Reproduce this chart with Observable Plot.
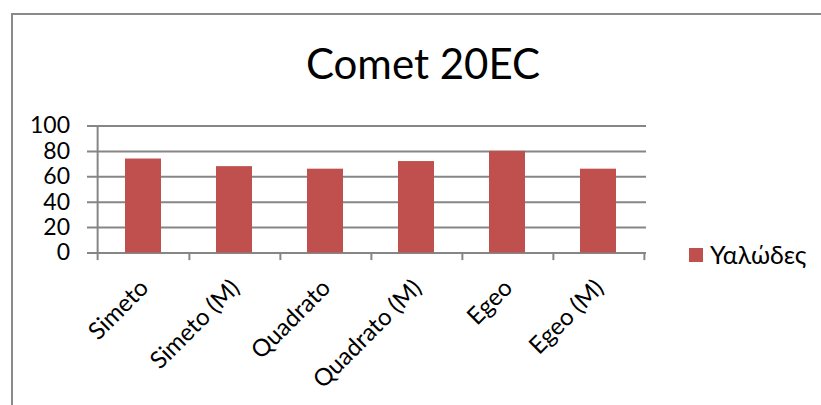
<!DOCTYPE html>
<html>
<head>
<meta charset="utf-8">
<script src="https://cdn.jsdelivr.net/npm/d3@7"></script>
<script src="https://cdn.jsdelivr.net/npm/@observablehq/plot@0.6"></script>
<style>
  html, body { margin: 0; padding: 0; background: #fff; }
  #wrap { position: relative; width: 821px; height: 405px; overflow: hidden; font-family: Lato, "Noto Sans", sans-serif; }
  #border { position: absolute; left: 11px; top: 13px; width: 900px; height: 500px; border: 2px solid #8a8a8a; box-sizing: border-box; }
  #title { position: absolute; left: 0; top: 41.5px; width: 846px; text-align: center; font-size: 42px; line-height: 1; color: #000; }
  #legend { position: absolute; left: 689px; top: 242px; font-size: 25px; line-height: 1; color: #000; white-space: nowrap; }
  #legend .sw { position: absolute; left: 0; top: 6px; width: 14px; height: 14px; background: #C0504D; }
  #legend .lb { position: absolute; left: 21px; top: 0; }
  #chart { position: absolute; left: 0; top: 0; }
  #chart svg g[aria-label="y-axis tick label"] text { font-size: 23px !important; fill: #000; }
  #chart svg g[aria-label="x-axis tick label"] text { font-size: 24px !important; fill: #000; }
</style>
</head>
<body>
<div id="wrap">
  <div id="border"></div>
  <div id="chart"></div>
  <div id="title">Comet 20EC</div>
  <div id="legend"><span class="sw"></span><span class="lb">Υαλώδες</span></div>
</div>
<script>
const categories = ["Simeto", "Simeto (M)", "Quadrato", "Quadrato (M)", "Egeo", "Egeo (M)"];
const values = [74, 68, 66, 72, 80, 66];
const yTicks = [0, 20, 40, 60, 80, 100];
const seriesName = "Υαλώδες";

const data = categories.map((c, i) => ({category: c, value: values[i], series: seriesName}));

const marginLeft = 95.5, marginRight = 175;
const plotW = 821 - marginLeft - marginRight;
const step = plotW / categories.length;

const chart = Plot.plot({
  width: 821,
  height: 405,
  marginTop: 125.5,
  marginBottom: 152.5,
  marginLeft,
  marginRight,
  style: {fontFamily: "Lato, 'Noto Sans', sans-serif", fontSize: "23px", color: "#000", background: "transparent"},
  x: {domain: categories, paddingInner: 0.6, paddingOuter: 0.3, label: null},
  y: {domain: [0, 100], label: null},
  marks: [
    Plot.ruleY(yTicks, {stroke: "#868686", strokeWidth: 2, insetLeft: -8.5}),
    Plot.barY(data, {x: "category", y: "value", fill: "#C0504D"}),
    Plot.ruleX(categories.slice(0, 1), {x: d => d, y1: -6, y2: 100, dx: -step / 2, stroke: "#868686", strokeWidth: 2}),
    Plot.ruleX(categories, {x: d => d, y1: -6, y2: 0, dx: step / 2, stroke: "#868686", strokeWidth: 2}),
    Plot.axisY(yTicks, {tickSize: 0, tickPadding: 26, fill: "#000"}),
    Plot.axisX({tickSize: 0, tickRotate: -45, tickPadding: 31, dx: 1, fill: "#000"})
  ]
});
document.getElementById("chart").appendChild(chart);
</script>
</body>
</html>
